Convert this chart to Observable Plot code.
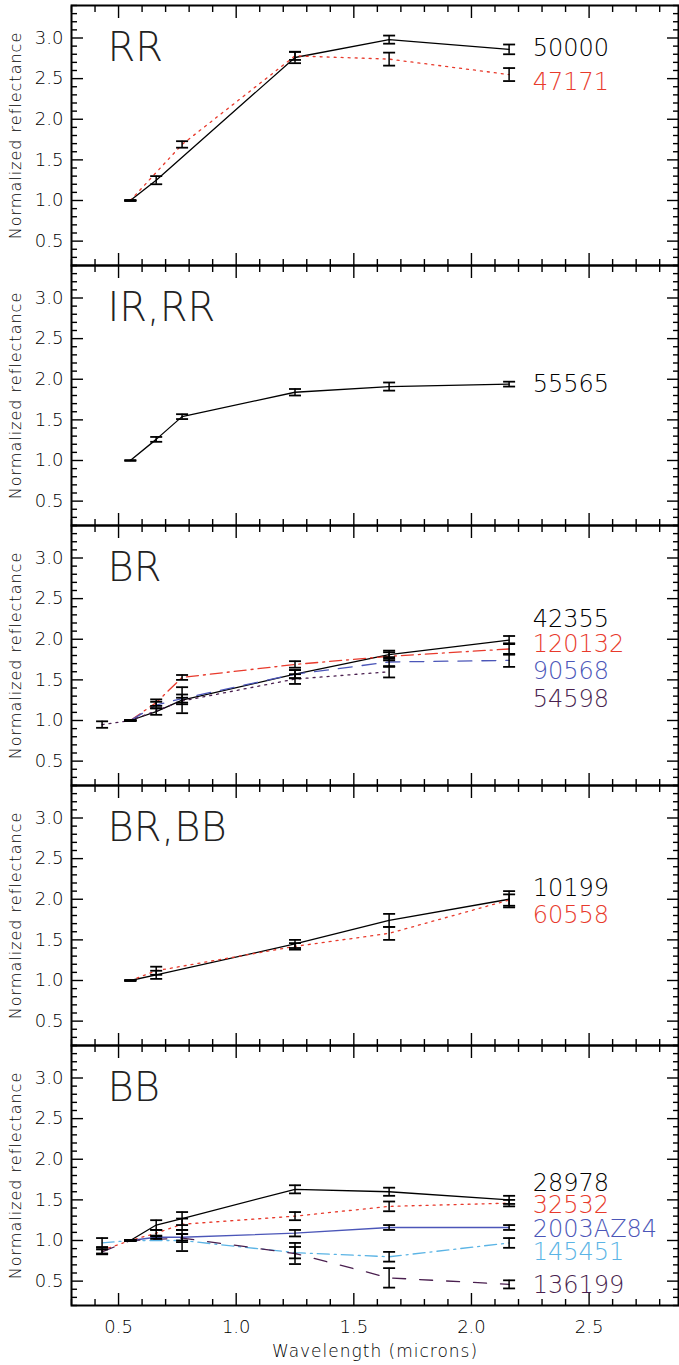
<!DOCTYPE html>
<html><head><meta charset="utf-8">
<script src="https://cdn.jsdelivr.net/npm/d3@7"></script>
<script src="https://cdn.jsdelivr.net/npm/@observablehq/plot@0.6"></script>
<style>
body{margin:0;background:#fff;}
#chart{width:679px;}
#chart svg{display:block;overflow:visible;}
#chart svg text{font-weight:200;}
</style></head><body><div id="chart"></div>
<script>
// ---- data ----
const bands = [0.43, 0.55, 0.66, 0.77, 1.25, 1.65, 2.16]; // B V R I J H K (microns)
const panelNames = ["RR", "IR,RR", "BR", "BR,BB", "BB"];
const seriesNames  = ["50000","47171","55565","42355","120132","90568","54598","10199","60558","28978","32532","2003AZ84","145451","136199"];
const seriesPanels = ["RR","RR","IR,RR","BR","BR","BR","BR","BR,BB","BR,BB","BB","BB","BB","BB","BB"];
const seriesValues = [
  [null,1.00,1.25,null,2.76,2.98,2.86],
  [null,1.00,null,1.69,2.78,2.74,2.55],
  [null,1.00,1.26,1.54,1.84,1.91,1.94],
  [null,1.00,1.11,1.25,1.57,1.81,1.99],
  [null,1.00,1.22,1.53,1.69,1.79,1.88],
  [null,1.00,1.19,1.27,1.57,1.72,1.74],
  [0.95,1.00,null,1.24,1.51,1.60,null],
  [null,1.00,1.07,null,1.45,1.74,2.00],
  [null,1.00,1.12,null,1.42,1.58,1.99],
  [null,1.00,1.19,1.27,1.63,1.60,1.50],
  [0.88,1.00,1.09,1.20,1.30,1.42,1.46],
  [null,1.00,1.04,1.04,1.09,1.16,1.16],
  [0.97,1.00,null,1.00,0.85,0.80,0.97],
  [0.86,1.00,null,1.03,0.84,0.54,0.46]
];
const seriesErrors = [
  [null,0.005,0.05,null,0.07,0.05,0.06],
  [null,0.005,null,0.04,0.05,0.08,0.08],
  [null,0.005,0.03,0.03,0.04,0.05,0.03],
  [null,0.005,0.04,0.16,0.05,0.05,0.05],
  [null,0.005,0.04,0.03,0.04,0.05,0.07],
  [null,0.005,0.04,0.05,0.05,0.06,0.08],
  [0.04,0.005,null,0.04,0.06,0.07,null],
  [null,0.005,0.05,null,0.05,0.08,0.10],
  [null,0.005,0.05,null,0.04,0.08,0.07],
  [null,0.005,0.06,0.08,0.05,0.05,0.05],
  [0.04,0.005,0.04,0.07,0.05,0.06,0.04],
  [null,0.005,0.02,0.04,0.04,0.03,0.03],
  [0.06,0.005,null,0.13,0.07,0.06,0.06],
  [0.03,0.005,null,0.05,0.13,0.12,0.05]
];
// legend label vertical positions (in reflectance units) and x position (microns)
const labelY = [2.87, 2.46, 1.935, 2.24, 1.94, 1.60, 1.26, 2.14, 1.80, 1.71, 1.43, 1.14, 0.86, 0.45];
const labelX = 2.26;
const majorY = [0.5, 1.0, 1.5, 2.0, 2.5, 3.0];
const minorY = [0.2,0.3,0.4,0.6,0.7,0.8,0.9,1.1,1.2,1.3,1.4,1.6,1.7,1.8,1.9,2.1,2.2,2.3,2.4,2.6,2.7,2.8,2.9,3.1,3.2,3.3,3.4];
const majorX = [0.5, 1.0, 1.5, 2.0, 2.5];
const minorX = [0.3,0.4,0.6,0.7,0.8,0.9,1.1,1.2,1.3,1.4,1.6,1.7,1.8,1.9,2.1,2.2,2.3,2.4,2.6,2.7,2.8];

// ---- styles ----
const RED = "#e83a2c", BLUE = "#4b56b8", LBLUE = "#5bb4e5", PURPLE = "#4a1f4f";
const seriesColors = ["#000",RED,"#000","#000",RED,BLUE,PURPLE,"#000",RED,"#000",RED,BLUE,LBLUE,PURPLE];
const seriesDash = [null,"2,5",null,null,"12,5,2,5","14,10","2,5",null,"2,5",null,"2,5",null,"12,5,2,5","13,14"];
const FONT = "'DejaVu Sans', sans-serif";

const rows = [];
seriesNames.forEach((name, s) => {
  seriesValues[s].forEach((v, i) => {
    if (v != null) rows.push({series: name, panel: seriesPanels[s], x: bands[i], y: v, err: seriesErrors[s][i]});
  });
});
const labels = seriesNames.map((name, s) => ({name, panel: seriesPanels[s], y: labelY[s], color: seriesColors[s]}));

const capSymbol = {draw(ctx, size) { const r = Math.sqrt(size / Math.PI); ctx.moveTo(-r, 0); ctx.lineTo(r, 0); }};
const blank = () => "";

function inwardAxes() {
  const o = {label: null, tickFormat: blank, strokeWidth: 1.4};
  return [
    Plot.axisY({...o, anchor: "left", ticks: majorY, tickSize: -12}),
    Plot.axisY({...o, anchor: "left", ticks: minorY, tickSize: -6}),
    Plot.axisY({...o, anchor: "right", ticks: majorY, tickSize: -12}),
    Plot.axisY({...o, anchor: "right", ticks: minorY, tickSize: -6}),
    Plot.axisX({...o, anchor: "bottom", ticks: majorX, tickSize: -12}),
    Plot.axisX({...o, anchor: "bottom", ticks: minorX, tickSize: -6}),
    Plot.axisX({...o, anchor: "top", ticks: majorX, tickSize: -12}),
    Plot.axisX({...o, anchor: "top", ticks: minorX, tickSize: -6})
  ];
}

const chart = document.getElementById("chart");
panelNames.forEach((p, idx) => {
  const mt = idx === 0 ? 5 : 0;
  const mb = idx === panelNames.length - 1 ? 60 : 0;
  const pr = rows.filter(r => r.panel === p);
  const marks = [];
  seriesNames.forEach((name, s) => {
    if (seriesPanels[s] !== p) return;
    marks.push(Plot.line(pr.filter(r => r.series === name), {x: "x", y: "y", stroke: seriesColors[s], strokeWidth: 1.3, strokeDasharray: seriesDash[s]}));
  });
  marks.push(Plot.ruleX(pr, {x: "x", y1: d => d.y - d.err, y2: d => d.y + d.err, stroke: "#000", strokeWidth: 1.5}));
  marks.push(Plot.dot(pr, {x: "x", y: d => d.y - d.err, symbol: capSymbol, r: 6, stroke: "#000", fill: "none", strokeWidth: 1.8}));
  marks.push(Plot.dot(pr, {x: "x", y: d => d.y + d.err, symbol: capSymbol, r: 6, stroke: "#000", fill: "none", strokeWidth: 1.8}));
  marks.push(Plot.text(labels.filter(l => l.panel === p), {x: () => labelX, y: "y", text: "name", fill: "color", textAnchor: "start", fontSize: 24}));
  marks.push(Plot.text([p], {frameAnchor: "top-left", text: d => d, dx: 36, dy: 55, lineAnchor: "bottom", textAnchor: "start", fontSize: 40, fill: "#222"}));
  marks.push(Plot.axisY({anchor: "left", ticks: [], tickSize: 0, label: "Normalized reflectance", labelAnchor: "center", labelOffset: 62, labelArrow: "none", fontSize: 16}));
  marks.push(Plot.axisY({anchor: "left", ticks: majorY, tickSize: 0, tickPadding: 8, tickFormat: d3.format(".1f"), fontSize: 18, label: null}));
  marks.push(...inwardAxes());
  if (mb) {
    marks.push(Plot.axisX({anchor: "bottom", ticks: majorX, tickSize: 0, tickPadding: 15, tickFormat: d3.format(".1f"), fontSize: 18, label: null}));
    marks.push(Plot.axisX({anchor: "bottom", ticks: [], tickSize: 0, label: "Wavelength (microns)", labelAnchor: "center", labelOffset: 51, labelArrow: "none", fontSize: 17}));
  }
  marks.push(Plot.frame({stroke: "#000", strokeWidth: 2}));
  const svg = Plot.plot({
    width: 679, height: 260 + mt + mb,
    marginLeft: 71, marginRight: 1, marginTop: mt, marginBottom: mb,
    x: {domain: [0.3, 2.88]},
    y: {domain: [0.2, 3.4]},
    style: {fontFamily: FONT, color: "#000", overflow: "visible"},
    marks
  });
  d3.select(svg).selectAll("text")
    .filter(function() { return this.textContent === "Normalized reflectance" || this.textContent === "Wavelength (microns)"; })
    .style("letter-spacing", "1px");
  chart.appendChild(svg);
});
</script></body></html>
